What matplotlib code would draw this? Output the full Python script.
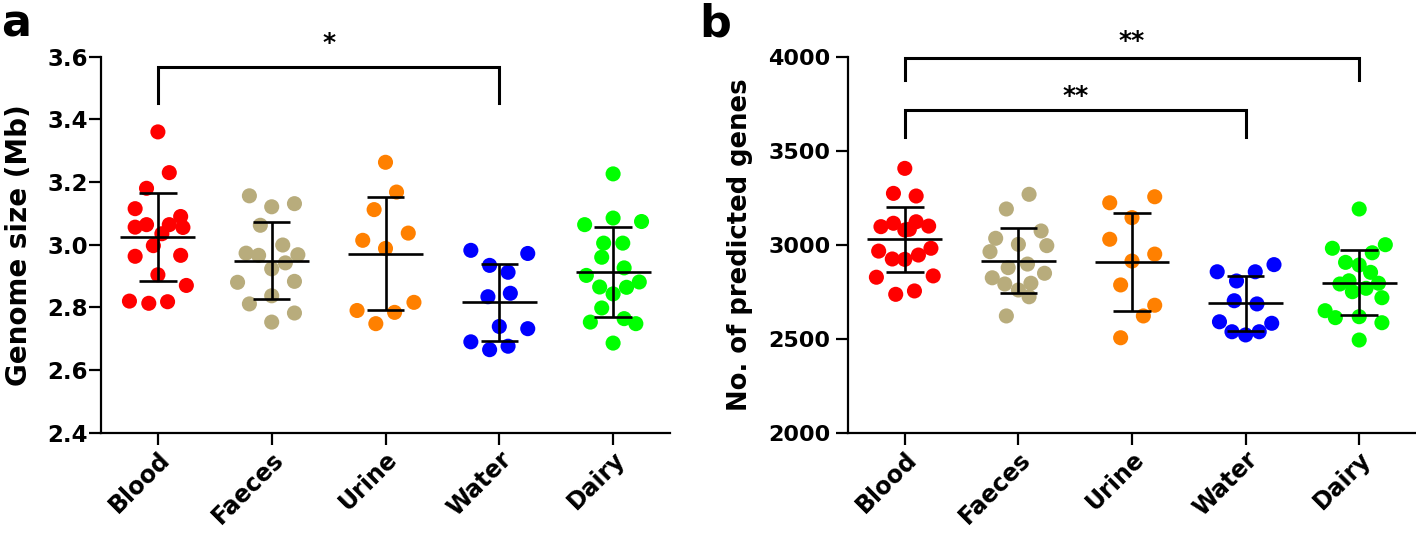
import matplotlib
matplotlib.use("Agg")
import matplotlib.pyplot as plt
import numpy as np

categories = ['Blood', 'Faeces', 'Urine', 'Water', 'Dairy']
colors = ['#FF0000', '#B8AC7C', '#FF8000', '#0000FF', '#00FF00']

# panel a: genome size (Mb), values and horizontal jitter
size_blood = [3.36, 3.23, 3.18, 3.115, 3.09, 3.056, 3.064, 3.064, 3.055, 3.035,
              2.997, 2.963, 2.966, 2.904, 2.870, 2.820, 2.813, 2.818]
size_blood_dx = [0.0, 0.10, -0.10, -0.20, 0.20, -0.20, -0.10, 0.10, 0.22, 0.035,
                 -0.04, -0.20, 0.20, 0.0, 0.25, -0.25, -0.08, 0.085]
size_faeces = [3.156, 3.121, 3.131, 3.062, 2.999, 2.973, 2.966, 2.968, 2.942, 2.923,
               2.880, 2.883, 2.837, 2.811, 2.782, 2.753]
size_faeces_dx = [-0.196, 0.0, 0.20, -0.10, 0.097, -0.225, -0.115, 0.23, 0.12, 0.0,
                  -0.30, 0.20, 0.0, -0.196, 0.20, 0.0]
size_urine = [3.263, 3.168, 3.112, 3.037, 3.014, 2.988, 2.790, 2.784, 2.816, 2.748]
size_urine_dx = [0.0, 0.097, -0.10, 0.20, -0.20, 0.0, -0.25, 0.08, 0.25, -0.085]
size_water = [2.982, 2.972, 2.934, 2.912, 2.834, 2.845, 2.739, 2.732, 2.690, 2.665, 2.676]
size_water_dx = [-0.25, 0.25, -0.085, 0.077, -0.10, 0.097, 0.0, 0.25, -0.25, -0.085, 0.077]
size_dairy = [3.226, 3.064, 3.085, 3.074, 3.005, 3.005, 2.960, 2.926, 2.902, 2.881,
              2.865, 2.864, 2.843, 2.798, 2.753, 2.764, 2.748, 2.686]
size_dairy_dx = [0.0, -0.25, 0.0, 0.25, -0.083, 0.085, -0.10, 0.097, -0.235, 0.23,
                 -0.118, 0.118, 0.0, -0.10, -0.20, 0.097, 0.20, 0.0]
size_mean = [3.025, 2.949, 2.971, 2.816, 2.913]
size_sd = [0.140, 0.123, 0.180, 0.122, 0.143]

# panel b: number of predicted genes
genes_blood = [3406, 3273, 3259, 3096, 3114, 3122, 3099, 3078, 3082, 2966,
               2981, 2924, 2922, 2945, 2827, 2834, 2736, 2754]
genes_blood_dx = [0.0, -0.10, 0.10, -0.21, -0.10, 0.10, 0.21, 0.0, 0.04, -0.23,
                  0.23, -0.11, 0.0, 0.12, -0.25, 0.25, -0.08, 0.085]
genes_faeces = [3268, 3190, 3073, 3034, 3002, 2995, 2963, 2878, 2897, 2824,
                2848, 2791, 2759, 2795, 2723, 2621]
genes_faeces_dx = [0.094, -0.106, 0.20, -0.20, 0.0, 0.25, -0.25, -0.09, 0.08, -0.23,
                   0.23, -0.12, 0.0, 0.11, 0.094, -0.106]
genes_urine = [3223, 3255, 3144, 3029, 2950, 2913, 2786, 2678, 2621, 2505]
genes_urine_dx = [-0.196, 0.20, 0.0, -0.196, 0.20, 0.0, -0.10, 0.20, 0.10, -0.10]
genes_water = [2856, 2856, 2894, 2807, 2702, 2685, 2590, 2582, 2537, 2520, 2537]
genes_water_dx = [-0.25, 0.085, 0.25, -0.08, -0.10, 0.10, -0.23, 0.23, -0.12, 0.0, 0.12]
genes_dairy = [3190, 2981, 3000, 2906, 2957, 2892, 2853, 2791, 2808, 2795,
               2750, 2768, 2718, 2649, 2612, 2617, 2585, 2493]
genes_dairy_dx = [0.0, -0.236, 0.23, -0.12, 0.115, 0.0, 0.10, -0.17, -0.09, 0.17,
                  -0.06, 0.06, 0.20, -0.30, -0.21, 0.0, 0.20, 0.0]
genes_mean = [3029, 2915, 2910, 2688, 2798]
genes_sd = [172, 173, 260, 145, 174]

size_groups = [(size_blood, size_blood_dx), (size_faeces, size_faeces_dx),
               (size_urine, size_urine_dx), (size_water, size_water_dx),
               (size_dairy, size_dairy_dx)]
genes_groups = [(genes_blood, genes_blood_dx), (genes_faeces, genes_faeces_dx),
                (genes_urine, genes_urine_dx), (genes_water, genes_water_dx),
                (genes_dairy, genes_dairy_dx)]

plt.rcParams['font.weight'] = 'bold'
plt.rcParams['axes.labelweight'] = 'bold'


def dot_plot(ax, groups, means, sds):
    for i, (vals, dx) in enumerate(groups):
        ax.scatter(i + np.array(dx), vals, s=118, color=colors[i],
                   edgecolors='none', zorder=2)
        ax.hlines(means[i], i - 0.33, i + 0.33, color='black', lw=1.9, zorder=3)
        ax.vlines(i, means[i] - sds[i], means[i] + sds[i], color='black', lw=1.9, zorder=3)
        ax.hlines([means[i] - sds[i], means[i] + sds[i]], i - 0.165, i + 0.165,
                  color='black', lw=1.9, zorder=3)
    ax.set_xlim(-0.5, 4.5)
    ax.set_xticks(range(len(categories)))
    ax.set_xticklabels(categories, rotation=45, ha='right', rotation_mode='anchor',
                       fontsize=17, fontweight='bold')
    for s in ['top', 'right']:
        ax.spines[s].set_visible(False)
    for s in ['left', 'bottom']:
        ax.spines[s].set_linewidth(1.6)
    ax.tick_params(axis='both', length=8.5, width=1.6, labelsize=16.5)
    ax.tick_params(axis='x', pad=2, labelsize=17)
    for lab in ax.get_yticklabels():
        lab.set_fontweight('bold')


def bracket(ax, x1, x2, y_top, y_leg, text, y_text):
    ax.plot([x1, x1, x2, x2], [y_leg, y_top, y_top, y_leg], color='black', lw=2.2,
            clip_on=False, solid_joinstyle='miter')
    ax.text((x1 + x2) / 2, y_text, text, ha='center', va='center', fontsize=18,
            fontweight='bold', clip_on=False)


fig = plt.figure(figsize=(14.16, 5.34), dpi=100)
bottom = (534 - 432.7) / 534
height = 376 / 534
ax_a = fig.add_axes([101 / 1416, bottom, 569 / 1416, height])
ax_b = fig.add_axes([848 / 1416, bottom, 568 / 1416, height])

dot_plot(ax_a, size_groups, size_mean, size_sd)
ax_a.set_ylim(2.4, 3.6)
ax_a.set_yticks(np.arange(2.4, 3.61, 0.2))
ax_a.set_yticklabels([f'{v:.1f}' for v in np.arange(2.4, 3.61, 0.2)], fontweight='bold')
ax_a.tick_params(axis='y', pad=1)
ax_a.set_ylabel('Genome size (Mb)', fontsize=20, fontweight='bold')
ax_a.yaxis.set_label_coords(-0.119, 0.5)
bracket(ax_a, 0, 3, 3.568, 3.453, '*', 3.645)

dot_plot(ax_b, genes_groups, genes_mean, genes_sd)
ax_b.set_ylim(2000, 4000)
ax_b.set_yticks([2000, 2500, 3000, 3500, 4000])
ax_b.set_yticklabels(['2000', '2500', '3000', '3500', '4000'], fontweight='bold')
ax_b.tick_params(axis='y', pad=4, labelsize=16)
ax_b.set_ylabel('No. of predicted genes', fontsize=18.6, fontweight='bold')
ax_b.yaxis.set_label_coords(-0.167, 0.5)
bracket(ax_b, 0, 4, 3993, 3876, '**', 4085)
bracket(ax_b, 0, 3, 3716, 3573, '**', 3790)

fig.text(0.001, 0.995, 'a', ha='left', va='top', fontsize=32, fontweight='bold')
fig.text(0.494, 0.995, 'b', ha='left', va='top', fontsize=32, fontweight='bold')

fig.savefig('out.png', dpi=100)
